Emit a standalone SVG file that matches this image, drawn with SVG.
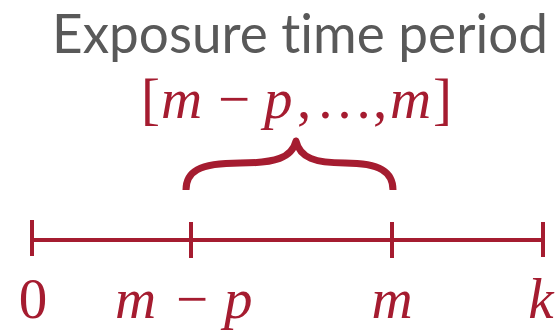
<svg xmlns="http://www.w3.org/2000/svg" width="559" height="330" viewBox="0 0 559 330">
<style>
.title{font-family:Lato,"Open Sans",sans-serif;font-size:54px;fill:#595959;font-variant-ligatures:none}
.math{font-family:"Liberation Serif",serif;font-size:57px;fill:#A51C30}
.i{font-style:italic}
.axis{stroke:#A51C30;stroke-width:4;fill:none}
.brace{stroke:#A51C30;stroke-width:7;fill:none;stroke-linecap:butt;stroke-linejoin:round}
</style>
<rect width="559" height="330" fill="#ffffff"/>
<g id="title"><text class="title" x="300" y="53" text-anchor="middle" textLength="496" lengthAdjust="spacingAndGlyphs">Exposure time period</text></g>
<g id="interval"><text class="math" y="118"><tspan x="141">[</tspan><tspan class="i" x="161">m</tspan><tspan x="218">−</tspan><tspan class="i" x="264">p</tspan><tspan x="297">,</tspan><tspan x="316">…</tspan><tspan x="373">,</tspan><tspan class="i" x="390">m</tspan><tspan x="433">]</tspan></text></g>
<g id="connectors">
<path class="brace" d="M186,190 C186,172 198,163 240,163 C275,163 292,158 296,141 C300,158 315,163 345,163 C380,163 393,172 393,190"/>
<line class="axis" x1="32" y1="240" x2="543" y2="240"/>
<line class="axis" x1="32" y1="220" x2="32" y2="256"/>
<line class="axis" x1="191" y1="222" x2="191" y2="258"/>
<line class="axis" x1="392" y1="222" x2="392" y2="258"/>
<line class="axis" x1="543" y1="222" x2="543" y2="257"/>
</g>
<g id="label-0"><text class="math" x="33" y="318" text-anchor="middle">0</text></g>
<g id="label-mp"><text class="math" y="318"><tspan class="i" x="115">m</tspan><tspan x="176">−</tspan><tspan class="i" x="224">p</tspan></text></g>
<g id="label-m"><text class="math i" x="392" y="318" text-anchor="middle">m</text></g>
<g id="label-k"><text class="math i" x="541" y="318" text-anchor="middle">k</text></g>
</svg>
